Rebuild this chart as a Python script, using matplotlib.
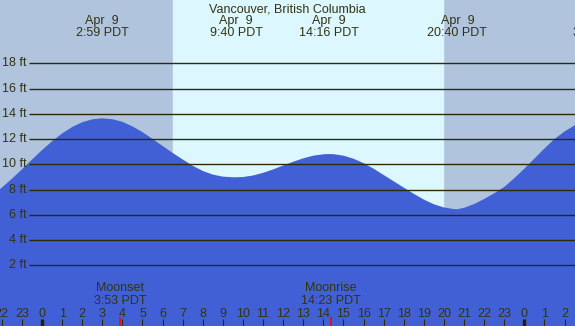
import matplotlib
matplotlib.use('Agg')
import matplotlib.pyplot as plt

# Dados da maré (horas desde 0:00 de 9 de abril, altura em pés)
horas = [-2.09, -2.0, -1.5, -1.0, -0.5, 0.0, 0.5, 1.0, 1.5, 2.0, 2.5, 2.98,
         3.5, 4.0, 4.5, 5.0, 5.5, 6.0, 6.5, 7.0, 7.5, 8.0, 8.5, 9.0, 9.5, 9.67,
         10.0, 10.5, 11.0, 11.5, 12.0, 12.5, 13.0, 13.5, 14.0, 14.27,
         14.5, 15.0, 15.5, 16.0, 16.5, 17.0, 17.5, 18.0, 18.5, 19.0, 19.5, 20.0, 20.5, 20.67,
         21.0, 21.5, 22.0, 22.5, 23.0, 23.5, 24.0, 24.5, 25.0, 25.5, 26.0, 26.52]
altura = [8.04, 8.15, 8.85, 9.60, 10.37, 11.12, 11.82, 12.44, 12.95, 13.33, 13.56, 13.64,
          13.57, 13.36, 13.0, 12.55, 12.0, 11.45, 10.9, 10.38, 9.88, 9.47, 9.18, 9.02, 8.97, 8.97,
          8.99, 9.11, 9.32, 9.59, 9.90, 10.20, 10.47, 10.68, 10.79, 10.81,
          10.80, 10.68, 10.44, 10.09, 9.65, 9.15, 8.65, 8.15, 7.66, 7.20, 6.83, 6.58, 6.45, 6.44,
          6.55, 6.85, 7.25, 7.7, 8.2, 8.9, 9.65, 10.45, 11.25, 12.0, 12.6, 13.1]

# Marés alta/baixa (rótulos no topo)
extremos_hora = [2.983, 9.667, 14.267, 20.667, 27.75]
extremos_data = ['Apr  9', 'Apr  9', 'Apr  9', 'Apr  9', 'Apr 10']
extremos_texto = ['2:59 PDT', '9:40 PDT', '14:16 PDT', '20:40 PDT', '3:45 PDT']

# Lua
lua_hora = [3.883, 14.383]
lua_nome = ['Moonset', 'Moonrise']
lua_texto = ['3:53 PDT', '14:23 PDT']

# Sol
nascer_sol = 6.52
por_sol = 19.95

niveis = [2, 4, 6, 8, 10, 12, 14, 16, 18]
horas_eixo = list(range(-2, 27))

cor_texto = '#333311'
cor_linha = '#2b2b05'

plt.rcParams['font.family'] = ['Liberation Sans', 'DejaVu Sans']

fig = plt.figure(figsize=(5.75, 3.26), dpi=100)
ax = fig.add_axes([0, 0, 1, 1])
x0, x1 = -2.09, 26.52
y0, y1 = -2.81, 23.01
ax.set_xlim(x0, x1)
ax.set_ylim(y0, y1)
ax.axis('off')

# Fundo noite / dia
ax.axvspan(x0, x1, color='#b0c4de', zorder=0)
ax.axvspan(nascer_sol, por_sol, color='#ddf7ff', zorder=1)

# Curva da maré
ax.fill_between(horas, y0, altura, color='#4160d6', zorder=2, linewidth=0)

# Linhas de nível
ax.hlines(niveis, -0.647, x1, color=cor_linha, linewidth=1.0, zorder=3)
for n in niveis:
    ax.text(-0.76, n, f'{n} ft', ha='right', va='center', fontsize=9, color=cor_texto, zorder=4)

# Título e rótulos das marés
ax.text((x0 + x1) / 2, 22.02, 'Vancouver, British Columbia', ha='center', va='baseline',
        fontsize=9, color=cor_texto, zorder=4)
for h, d, t in zip(extremos_hora, extremos_data, extremos_texto):
    ax.text(h, 21.1, d, ha='center', va='baseline', fontsize=9, color=cor_texto, zorder=4)
    ax.text(h, 20.16, t, ha='center', va='baseline', fontsize=9, color=cor_texto, zorder=4)

# Lua
for h, n, t in zip(lua_hora, lua_nome, lua_texto):
    ax.text(h, -0.06, n, ha='center', va='baseline', fontsize=9, color=cor_texto, zorder=4)
    ax.text(h, -1.07, t, ha='center', va='baseline', fontsize=9, color=cor_texto, zorder=4)
    ax.vlines(h, y0, -2.13, color='red', linewidth=1.2, zorder=5)

# Eixo das horas
for h in horas_eixo:
    ax.text(h, -2.07, str(h % 24), ha='center', va='baseline', fontsize=9, color=cor_texto, zorder=4)
    if h % 24 == 0:
        ax.vlines(h, y0, -2.26, color='#222200', linewidth=2.4, zorder=5)
    else:
        ax.vlines(h, y0, -2.26, color=cor_linha, linewidth=0.8, zorder=5)

plt.savefig('out.png', dpi=100)
